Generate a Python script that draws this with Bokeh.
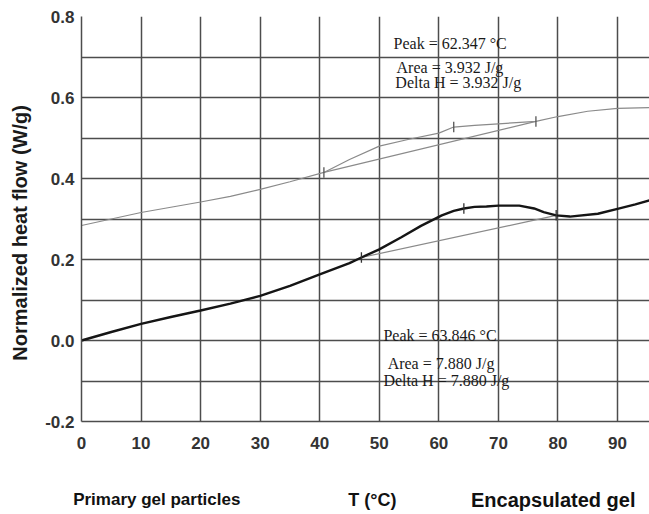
from bokeh.plotting import figure
from bokeh.layouts import column
from bokeh.models import FixedTicker, Label, PrintfTickFormatter, Range1d
from bokeh.embed import file_html
from bokeh.resources import INLINE

# ---- data ----
upper_T = [0, 5, 10, 15, 20, 25, 30, 35, 40.7, 45, 50, 55, 60, 62.5, 66, 70, 73, 76.3, 80, 85, 90, 95.4]
upper_v = [0.284, 0.300, 0.316, 0.329, 0.342, 0.356, 0.373, 0.392, 0.415, 0.447, 0.480, 0.497, 0.512,
           0.527, 0.531, 0.535, 0.538, 0.541, 0.553, 0.566, 0.573, 0.575]

lower_T = [0, 5, 10, 15, 20, 25, 30, 35, 40, 45, 47, 50, 53.7, 57, 60.5, 62.5, 64.2, 66, 68, 70,
           73.5, 76, 77.6, 79.7, 82, 86.7, 90, 93, 95.4]
lower_v = [0.0, 0.021, 0.041, 0.058, 0.074, 0.091, 0.110, 0.135, 0.163, 0.191, 0.205, 0.225, 0.255,
           0.283, 0.309, 0.320, 0.326, 0.330, 0.331, 0.333, 0.333, 0.326, 0.317, 0.309, 0.306,
           0.313, 0.325, 0.336, 0.346]

upper_base_T = [40.7, 76.3]
upper_base_v = [0.415, 0.541]
lower_base_T = [47.0, 79.7]
lower_base_v = [0.205, 0.309]

upper_marks_T = [40.7, 62.5, 76.3]
upper_marks_v = [0.415, 0.527, 0.541]
lower_marks_T = [47.0, 64.2, 79.7]
lower_marks_v = [0.205, 0.326, 0.309]

x_ticks = [0, 10, 20, 30, 40, 50, 60, 70, 80, 90]
y_ticks = [-0.2, 0.0, 0.2, 0.4, 0.6, 0.8]
y_grid = [-0.2, -0.1, 0.0, 0.1, 0.2, 0.3, 0.4, 0.5, 0.6, 0.7, 0.8]

upper_notes = ["Peak = 62.347 \u00b0C", "Area = 3.932 J/g", "Delta H = 3.932 J/g"]
lower_notes = ["Peak = 63.846 \u00b0C", "Area = 7.880 J/g", "Delta H = 7.880 J/g"]
y_title = "Normalized heat flow (W/g)"
bottom_texts = ["Primary gel particles", "T (\u00b0C)", "Encapsulated gel"]

# ---- main figure ----
X0, X1 = 0, 95.37
LEFT = 81
xr = Range1d(X0, X1)
p = figure(width=649, height=461, x_range=xr, y_range=(-0.2, 0.8),
           output_backend="svg", toolbar_location=None,
           min_border_left=LEFT, min_border_right=0, min_border_top=16, min_border_bottom=40)
p.frame_align = False
p.outline_line_color = None
p.background_fill_color = "white"

grid_col = "#4d4d4d"
p.xaxis.ticker = FixedTicker(ticks=x_ticks)
p.yaxis.ticker = FixedTicker(ticks=y_ticks)
p.xgrid.ticker = FixedTicker(ticks=x_ticks)
p.ygrid.ticker = FixedTicker(ticks=y_grid)
for g in (p.xgrid, p.ygrid):
    g.grid_line_color = grid_col
    g.grid_line_width = 1.5
    g.grid_line_alpha = 1.0

p.yaxis.formatter = PrintfTickFormatter(format="%.1f")
for ax in (p.xaxis, p.yaxis):
    ax.axis_line_color = grid_col
    ax.axis_line_width = 1.5
    ax.major_tick_out = 0
    ax.major_tick_in = 0
    ax.minor_tick_out = 0
    ax.minor_tick_in = 0
    ax.major_label_text_font = "Liberation Sans"
    ax.major_label_text_font_style = "bold"
    ax.major_label_text_font_size = "17px"
    ax.major_label_text_color = "#333333"
p.xaxis.major_label_standoff = 15
p.yaxis.major_label_standoff = 7

# y title (trailing no-break spaces shift the visible text slightly downward)
p.yaxis.axis_label = y_title + "\u00a0" * 5
p.yaxis.axis_label_text_font = "Liberation Sans"
p.yaxis.axis_label_text_font_style = "bold"
p.yaxis.axis_label_text_font_size = "20px"
p.yaxis.axis_label_text_color = "#1a1a1a"
p.yaxis.axis_label_standoff = 11

# curves
p.line(upper_T, upper_v, line_color="#8a8a8a", line_width=1.2)
p.line(upper_base_T, upper_base_v, line_color="#8a8a8a", line_width=1.2)
p.line(lower_base_T, lower_base_v, line_color="#8a8a8a", line_width=1.2)
p.line(lower_T, lower_v, line_color="#151515", line_width=2.4)

mh = 0.013
p.segment(x0=upper_marks_T, y0=[v - mh for v in upper_marks_v],
          x1=upper_marks_T, y1=[v + mh for v in upper_marks_v],
          line_color="#555555", line_width=1.3)
p.segment(x0=lower_marks_T, y0=[v - mh for v in lower_marks_v],
          x1=lower_marks_T, y1=[v + mh for v in lower_marks_v],
          line_color="#333333", line_width=1.3)

# annotations
serif = "Liberation Serif"
up_pos = [(52.4, 0.733), (52.9, 0.674), (52.7, 0.637)]
lo_pos = [(50.7, 0.012), (51.4, -0.057), (50.7, -0.099)]
for txt, (x, y) in zip(upper_notes, up_pos):
    p.add_layout(Label(x=x, y=y, text=txt, text_font=serif, text_font_size="16px",
                       text_color="#1a1a1a", text_baseline="middle", text_align="left"))
for txt, (x, y) in zip(lower_notes, lo_pos):
    p.add_layout(Label(x=x, y=y, text=txt, text_font=serif, text_font_size="16px",
                       text_color="#1a1a1a", text_baseline="middle", text_align="left"))

# ---- bottom strip with the three captions (frame spans full width, same scale) ----
px_per_unit = (649 - LEFT) / (X1 - X0)
b = figure(width=649, height=53, x_range=Range1d(X0 - LEFT / px_per_unit, X1), y_range=(0, 1),
           output_backend="svg", toolbar_location=None,
           min_border_left=0, min_border_right=0, min_border_top=0, min_border_bottom=0)
b.frame_align = False
b.outline_line_color = None
b.xaxis.visible = False
b.yaxis.visible = False
b.xgrid.visible = False
b.ygrid.visible = False

bt_pos = [(-1.4, 17), (44.8, 18), (65.4, 20)]
for txt, (x, fs) in zip(bottom_texts, bt_pos):
    b.add_layout(Label(x=x, y=0.283, text=txt, text_font="Liberation Sans",
                       text_font_style="bold", text_font_size=f"{fs}px",
                       text_color="#111111", text_align="left", text_baseline="middle"))

layout = column(p, b, spacing=0)
open("out.html", "w").write(file_html(layout, INLINE))
